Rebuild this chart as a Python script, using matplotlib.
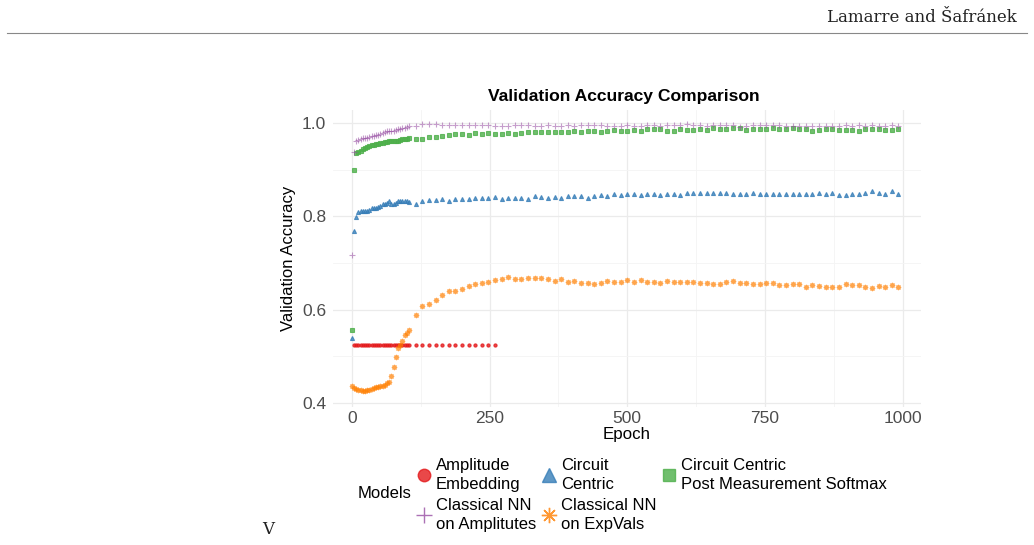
import matplotlib.pyplot as plt
from matplotlib.lines import Line2D

plt.rcParams['font.family'] = ['Liberation Sans', 'DejaVu Sans']

# epochs at which validation accuracy was logged
epochs_dense = list(range(0, 105, 4))
epochs_sparse = list(range(116, 993, 12))
epochs_ampl = list(range(4, 105, 4)) + list(range(116, 261, 12))
epochs_all = epochs_dense + epochs_sparse

acc_ampl = [0.525, 0.525, 0.525, 0.525, 0.525, 0.525, 0.525, 0.525, 0.525, 0.525,
            0.525, 0.525, 0.525, 0.525, 0.525, 0.525, 0.525, 0.525, 0.525, 0.525,
            0.525, 0.525, 0.525, 0.525, 0.525, 0.525,
            0.525, 0.525, 0.525, 0.525, 0.525, 0.525, 0.525, 0.525, 0.525, 0.525,
            0.525, 0.525, 0.525]

acc_cc = [0.539, 0.769, 0.799, 0.809, 0.811, 0.812, 0.812, 0.812, 0.813, 0.817,
          0.817, 0.818, 0.820, 0.823, 0.826, 0.827, 0.828, 0.832, 0.827, 0.826,
          0.829, 0.832, 0.833, 0.832, 0.832, 0.832, 0.831,
          0.827, 0.834, 0.836, 0.836, 0.837, 0.833, 0.837, 0.838, 0.837, 0.839,
          0.840, 0.839, 0.841, 0.838, 0.839, 0.840, 0.839, 0.837, 0.843, 0.842,
          0.840, 0.841, 0.839, 0.843, 0.844,
          0.844, 0.839, 0.843, 0.846, 0.844, 0.8485, 0.845, 0.848, 0.849, 0.846,
          0.8485, 0.8485, 0.845, 0.849, 0.848, 0.8464, 0.8507, 0.850, 0.851, 0.8507,
          0.8507, 0.851, 0.851, 0.848, 0.848, 0.848, 0.851, 0.848, 0.8485, 0.8485,
          0.849, 0.849, 0.8485, 0.848, 0.8485, 0.8485, 0.850, 0.848, 0.851, 0.845,
          0.8464, 0.848, 0.8485, 0.8507, 0.855, 0.850, 0.848, 0.8543, 0.847]

acc_ccpms = [0.557, 0.900, 0.936, 0.938, 0.941, 0.944, 0.946, 0.948, 0.950, 0.952,
             0.954, 0.955, 0.956, 0.957, 0.958, 0.959, 0.960, 0.961, 0.961, 0.961,
             0.962, 0.962, 0.964, 0.966, 0.965, 0.966, 0.967,
             0.966, 0.966, 0.970, 0.971, 0.973, 0.974, 0.976, 0.976, 0.974, 0.978,
             0.977, 0.979, 0.977, 0.977, 0.979, 0.977, 0.979, 0.980, 0.980, 0.981,
             0.981, 0.981, 0.981, 0.980, 0.983,
             0.981, 0.983, 0.983, 0.981, 0.984, 0.9857, 0.984, 0.984, 0.985, 0.984,
             0.988, 0.987, 0.988, 0.984, 0.9835, 0.988, 0.986, 0.986, 0.987, 0.986,
             0.9885, 0.987, 0.987, 0.9885, 0.9885, 0.986, 0.987, 0.988, 0.988, 0.989,
             0.988, 0.987, 0.9885, 0.988, 0.987, 0.9835, 0.9857, 0.987, 0.987, 0.985,
             0.9857, 0.9857, 0.984, 0.988, 0.987, 0.987, 0.9857, 0.985, 0.987]

acc_nn_amp = [0.718, 0.937, 0.962, 0.964, 0.965, 0.967, 0.968, 0.969, 0.970, 0.972,
              0.973, 0.974, 0.975, 0.977, 0.979, 0.981, 0.982, 0.983, 0.983, 0.983,
              0.986, 0.987, 0.988, 0.989, 0.990, 0.991, 0.993,
              0.994, 0.998, 0.9985, 0.997, 0.996, 0.995, 0.995, 0.995, 0.996, 0.995,
              0.996, 0.995, 0.994, 0.994, 0.993, 0.995, 0.995, 0.995, 0.994, 0.993,
              0.995, 0.994, 0.993, 0.995, 0.994,
              0.995, 0.995, 0.995, 0.9957, 0.994, 0.9947, 0.9947, 0.995, 0.9947, 0.9947,
              0.995, 0.995, 0.9943, 0.995, 0.995, 0.9964, 0.997, 0.995, 0.995, 0.9943,
              0.9964, 0.9967, 0.995, 0.9964, 0.9926, 0.9947, 0.9964, 0.9964, 0.9957, 0.995,
              0.9964, 0.9943, 0.9947, 0.9947, 0.9943, 0.9943, 0.9947, 0.9947, 0.9947, 0.9947,
              0.9957, 0.9947, 0.9957, 0.9947, 0.995, 0.9947, 0.9943, 0.9964, 0.9947]

acc_nn_exp = [0.436, 0.432, 0.430, 0.428, 0.427, 0.426, 0.426, 0.427, 0.428, 0.431,
              0.433, 0.434, 0.435, 0.436, 0.436, 0.438, 0.443, 0.444, 0.457, 0.478,
              0.498, 0.517, 0.525, 0.532, 0.545, 0.551, 0.556,
              0.588, 0.608, 0.612, 0.621, 0.631, 0.639, 0.639, 0.644, 0.650, 0.656,
              0.658, 0.660, 0.664, 0.666, 0.670, 0.666, 0.666, 0.668, 0.667, 0.668,
              0.666, 0.661, 0.665, 0.660, 0.662,
              0.657, 0.6565, 0.6557, 0.658, 0.661, 0.660, 0.660, 0.664, 0.660, 0.664,
              0.659, 0.659, 0.6565, 0.662, 0.660, 0.659, 0.6586, 0.659, 0.657, 0.657,
              0.6557, 0.654, 0.659, 0.662, 0.657, 0.657, 0.655, 0.6557, 0.6565, 0.6565,
              0.652, 0.652, 0.654, 0.654, 0.648, 0.653, 0.650, 0.648, 0.649, 0.6486,
              0.655, 0.6535, 0.653, 0.649, 0.646, 0.650, 0.648, 0.652, 0.649]

labels = ['Amplitude\nEmbedding', 'Circuit\nCentric',
          'Circuit Centric\nPost Measurement Softmax',
          'Classical NN\non Amplitutes', 'Classical NN\non ExpVals']
colors = ['#E41A1C', '#377EB8', '#4DAF4A', '#984EA3', '#FF7F00']
markers = ['o', '^', 's', '+', (8, 2, 0)]

fig = plt.figure(figsize=(10.34, 5.45), dpi=100)

# page header of the paper
fig.text(1017 / 1034, 1 - 18 / 545, 'Lamarre and Šafránek', family='DejaVu Serif',
         fontsize=12, ha='right', va='center', color='#222222')
fig.add_artist(Line2D([7 / 1034, 1027 / 1034], [1 - 33 / 545, 1 - 33 / 545],
                      color='#888888', lw=0.8))
fig.text(268 / 1034, 1 - 530 / 545, 'V', family='DejaVu Serif', fontsize=12,
         ha='center', va='center', color='#222222')

ax = fig.add_axes([333 / 1034, (545 - 406.7) / 545, 588 / 1034, 296.7 / 545])
ax.set_xlim(-34, 1033)
ax.set_ylim(0.392, 1.028)

series = [(epochs_ampl, acc_ampl), (epochs_all, acc_cc), (epochs_all, acc_ccpms),
          (epochs_all, acc_nn_amp), (epochs_all, acc_nn_exp)]
sizes = [2.3, 2.9, 2.3, 5.0, 3.8]
alphas = [0.8, 0.8, 0.8, 0.55, 0.7]
for (x, y), c, m, ms, a in zip(series, colors, markers, sizes, alphas):
    ax.plot(x, y, linestyle='none', marker=m, ms=ms, color=c, mew=0.8,
            alpha=a, zorder=3)

ax.set_xticks([0, 250, 500, 750, 1000])
ax.set_xticks([125, 375, 625, 875], minor=True)
ax.set_yticks([0.4, 0.6, 0.8, 1.0])
ax.set_yticks([0.5, 0.7, 0.9], minor=True)
ax.set_yticklabels(['0.4', '0.6', '0.8', '1.0'])
ax.grid(which='major', color='#ebebeb', lw=0.9)
ax.grid(which='minor', color='#f4f4f4', lw=0.6)
ax.set_axisbelow(True)
for s in ax.spines.values():
    s.set_visible(False)
ax.tick_params(which='both', length=0, labelsize=12.5, labelcolor='#4d4d4d')
ax.tick_params(axis='x', pad=3)
ax.tick_params(axis='y', pad=5)
ax.set_xlabel('Epoch', fontsize=12.2, labelpad=0.5)
ax.set_ylabel('Validation Accuracy', fontsize=12, labelpad=4)

fig.text(624 / 1034, 1 - 97 / 545, 'Validation Accuracy Comparison',
         fontsize=12.6, fontweight='bold', ha='center', va='center')

# legend: column-major order so the rows read like the reference
order = [0, 3, 1, 4, 2]
handle_sizes = [9, 10, 9, 11, 11]
handles = [Line2D([], [], linestyle='none', marker=markers[i], color=colors[i],
                  ms=handle_sizes[i], mew=1.0, alpha=0.8) for i in order]
leg = fig.legend(handles, [labels[i] for i in order], ncol=3, frameon=False,
                 loc='upper left', bbox_to_anchor=(418 / 1034, 1 - 458 / 545),
                 borderpad=0, borderaxespad=0, fontsize=12, handlelength=0.7,
                 handletextpad=0.38, columnspacing=0.4, labelspacing=0.33)
for t in leg.get_texts():
    t.set_linespacing(1.35)
fig.text(358 / 1034, 1 - 493 / 545, 'Models', fontsize=12, ha='left', va='center')

fig.savefig('out.png', dpi=100)
